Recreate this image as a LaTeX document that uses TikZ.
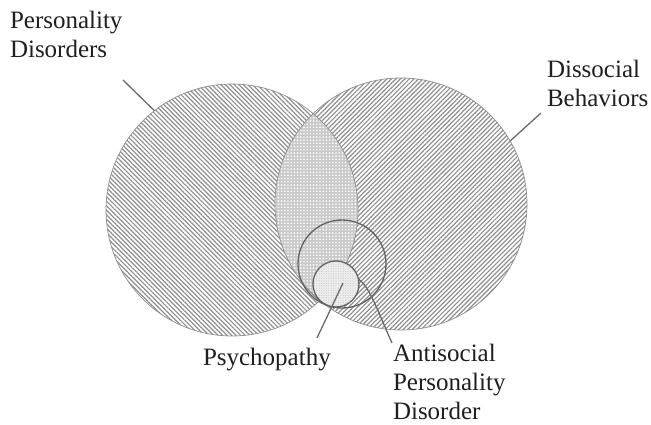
\documentclass[tikz,border=0pt]{standalone}
\usepackage{fontspec}
\setmainfont{Liberation Serif}
\usetikzlibrary{patterns.meta}
\definecolor{hatch}{gray}{0.56}
\definecolor{lead}{gray}{0.42}
\definecolor{rim}{gray}{0.38}
\definecolor{txt}{gray}{0.12}
\begin{document}
\begin{tikzpicture}[x=1pt,y=-1pt,
  lbl/.style={font=\fontsize{25}{29.2}\selectfont, text=txt, inner sep=0pt, outer sep=0pt, align=left},
  setc/.style={circle, inner sep=0pt, outer sep=0pt, minimum size=#1},
  leader/.style={draw=lead, line width=1.3pt},
  nwhatch/.style={pattern={Lines[angle=-45,distance=3.2pt,line width=1.2pt]}, pattern color=hatch},
  nehatch/.style={pattern={Lines[angle=45,distance=3.2pt,line width=1.2pt]}, pattern color=hatch}]
\useasboundingbox (0,0) rectangle (651,425);
\fill[white] (0,0) rectangle (651,425);

% big circles
\node[setc=252pt, nwhatch] (pd) at (232,210) {};
\node[setc=252pt, nehatch] (db) at (401,204) {};

% lens (intersection)
\begin{scope}
  \clip (pd.center) circle[radius=126];
  \fill[gray!42] (db.center) circle[radius=126];
  \fill[pattern={Dots[distance=3.2pt,radius=0.95pt]}, pattern color=white] (db.center) circle[radius=126];
\end{scope}

% outlines of big circles
\draw[hatch, line width=0.7pt] (pd.center) circle[radius=126];
\draw[hatch, line width=0.7pt] (db.center) circle[radius=126];

% antisocial personality disorder circle
\node[setc=88pt, draw=rim, line width=1.3pt] (apd) at (342,264) {};

% psychopathy circle
\node[setc=46pt, fill=gray!14, draw=rim, line width=1.3pt] (psy) at (336,284) {};
\fill[pattern={Dots[distance=2.4pt,radius=0.55pt]}, pattern color=gray!45] (psy.center) circle[radius=22];

% labels
\node[lbl, anchor=north west] (pdl) at (10,11) {Personality\\Disorders};
\node[lbl, anchor=north west] (dbl) at (547,60) {Dissocial\\Behaviors};
\node[lbl, anchor=base west] (psyl) at (203,365) {Psychopathy};
\node[lbl, anchor=north west] (apdl) at (393,344) {Antisocial\\Personality\\Disorder};

% leaders
\coordinate (pdend) at (123,80);
\coordinate (dbend) at (541,113);
\coordinate (psyend) at (317,338);
\coordinate (psyin) at (343,283);
\coordinate (apdend) at (392,343);
\draw[leader] (pdend) -- (pd.128);
\draw[leader] (dbend) -- (db.30);
\draw[leader] (psyend) -- (psyin);
\draw[leader] (apdend) .. controls (378,312) and (370,287) .. (psy.12);
\end{tikzpicture}
\end{document}
